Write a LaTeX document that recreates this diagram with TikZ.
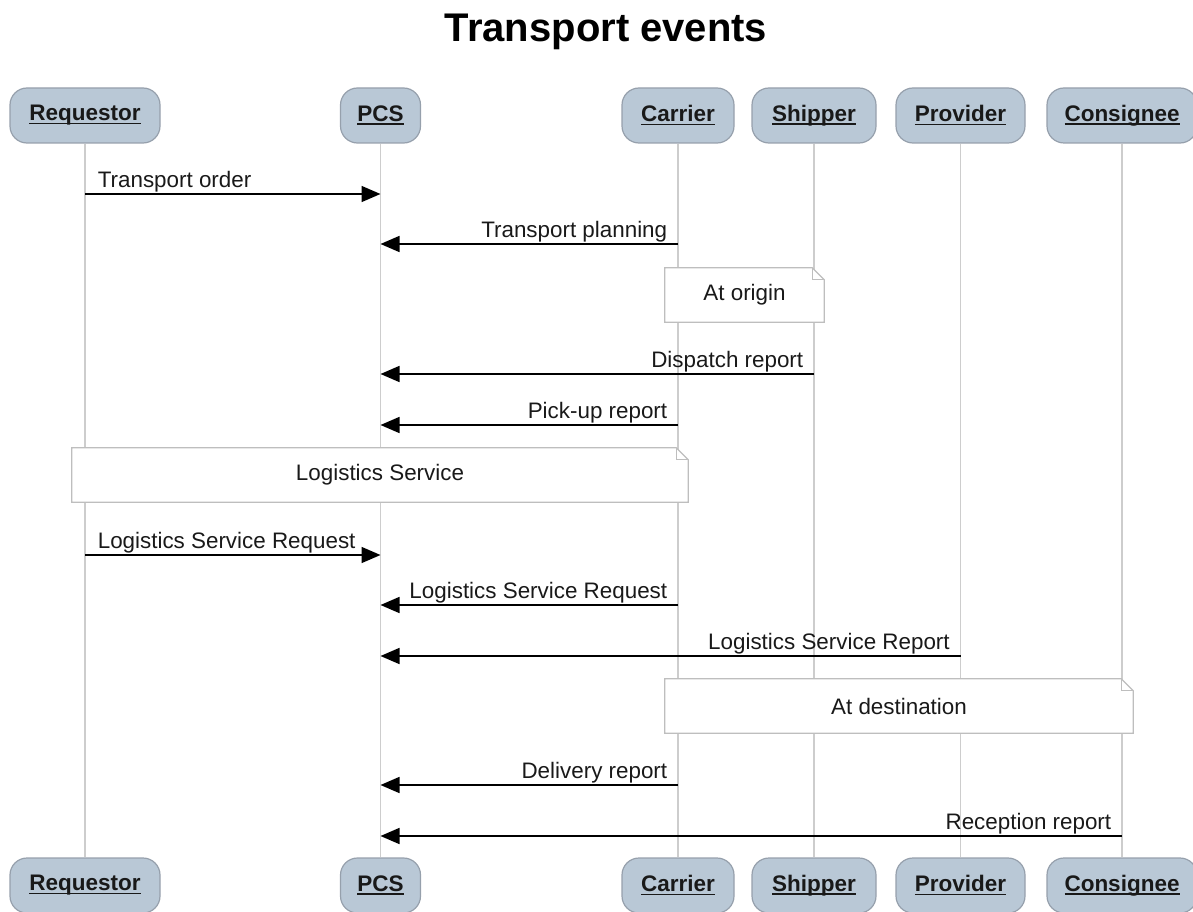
\documentclass[tikz,border=0pt]{standalone}
\usepackage{fontspec}
\setmainfont{Liberation Sans}
\usetikzlibrary{arrows.meta,calc}
\definecolor{partfill}{RGB}{185,200,214}
\definecolor{partdraw}{RGB}{150,160,172}
\definecolor{lifegray}{RGB}{205,205,205}
\definecolor{notegray}{RGB}{190,190,190}
\definecolor{ink}{RGB}{25,25,25}
\pgfdeclarelayer{bg}
\pgfsetlayers{bg,main}
% underlined participant name with a thicker rule
\newcommand\ulname[1]{\setbox0\hbox{#1}\rlap{\rule[-3.5pt]{\wd0}{1.8pt}}\box0}
% note outline with a folded top-right corner, drawn behind the note's text
\newcommand\notepath[1]{%
  \begin{pgfonlayer}{bg}
  \path[noteline] (#1.south west) -- (#1.north west) -- ([xshift=-12pt]#1.north east)
    -- ([yshift=-12pt]#1.north east) -- (#1.south east) -- cycle;
  \draw[noteline, fill=none] ([xshift=-12pt]#1.north east) |- ([yshift=-12pt]#1.north east);
  \end{pgfonlayer}}
\begin{document}
\begin{tikzpicture}[x=1pt,y=-1pt,
  part/.style={draw=partdraw, fill=partfill, line width=1.2pt, rounded corners=17pt,
    minimum height=55pt, inner sep=0pt, font=\bfseries\fontsize{22.5}{26}\selectfont, text=ink},
  life/.style={draw=lifegray, line width=1.2pt},
  msg/.style={draw=black, line width=1.6pt, -{Triangle[length=19pt,width=16pt]}},
  lbl/.style={font=\fontsize{22.4}{26}\selectfont, text=ink, inner sep=0pt},
  notebox/.style={inner sep=0pt, minimum height=54pt, font=\fontsize{22.4}{26}\selectfont, text=ink},
  noteline/.style={draw=notegray, line width=1.2pt, fill=white},
]
\useasboundingbox (0,0) rectangle (1193,912);

% title
\node[font=\bfseries\fontsize{40}{46}\selectfont, text=black] (title) at (606,32) {Transport events};

% participants, top row
\node[part, minimum width=150pt] (reqT)  at (85,115.5)   {\ulname{Requestor}};
\node[part, minimum width=80pt]  (pcsT)  at (380.5,115.5){\ulname{PCS}};
\node[part, minimum width=112pt] (carT)  at (678,115.5)  {\ulname{Carrier}};
\node[part, minimum width=124pt] (shipT) at (814,115.5)  {\ulname{Shipper}};
\node[part, minimum width=129pt] (provT) at (960.5,115.5){\ulname{Provider}};
\node[part, minimum width=150pt] (consT) at (1122,115.5) {\ulname{Consignee}};

% participants, bottom row
\node[part, minimum width=150pt] (reqB)  at (85,885.5)   {\ulname{Requestor}};
\node[part, minimum width=80pt]  (pcsB)  at (380.5,885.5){\ulname{PCS}};
\node[part, minimum width=112pt] (carB)  at (678,885.5)  {\ulname{Carrier}};
\node[part, minimum width=124pt] (shipB) at (814,885.5)  {\ulname{Shipper}};
\node[part, minimum width=129pt] (provB) at (960.5,885.5){\ulname{Provider}};
\node[part, minimum width=150pt] (consB) at (1122,885.5) {\ulname{Consignee}};

% lifelines
\begin{pgfonlayer}{bg}
\draw[life] (reqT) -- (reqB);
\draw[life] (pcsT) -- (pcsB);
\draw[life] (carT) -- (carB);
\draw[life] (shipT) -- (shipB);
\draw[life] (provT) -- (provB);
\draw[life] (consT) -- (consB);
\end{pgfonlayer}

% messages
\draw[msg] (reqT |- 0,194) -- (pcsT |- 0,194)
  node[lbl, pos=0, anchor=base west, xshift=12pt, yshift=7pt] {Transport order};
\draw[msg] (carT |- 0,244) -- (pcsT |- 0,244)
  node[lbl, pos=0, anchor=base east, xshift=-10pt, yshift=7pt] {Transport planning};

\node[notebox, minimum width=159pt] (origin) at (744.5,295) {At origin};
\notepath{origin}

\draw[msg] (shipT |- 0,374) -- (pcsT |- 0,374)
  node[lbl, pos=0, anchor=base east, xshift=-10pt, yshift=7pt] {Dispatch report};
\draw[msg] (carT |- 0,425) -- (pcsT |- 0,425)
  node[lbl, pos=0, anchor=base east, xshift=-10pt, yshift=7pt] {Pick-up report};

\node[notebox, minimum width=616pt] (logserv) at (380,475) {Logistics Service};
\notepath{logserv}

\draw[msg] (reqT |- 0,555) -- (pcsT |- 0,555)
  node[lbl, pos=0, anchor=base west, xshift=12pt, yshift=7pt] {Logistics Service Request};
\draw[msg] (carT |- 0,605) -- (pcsT |- 0,605)
  node[lbl, pos=0, anchor=base east, xshift=-10pt, yshift=7pt] {Logistics Service Request};
\draw[msg] (provT |- 0,656) -- (pcsT |- 0,656)
  node[lbl, pos=0, anchor=base east, xshift=-10pt, yshift=7pt] {Logistics Service Report};

\node[notebox, minimum width=468pt] (dest) at (899,706) {At destination};
\notepath{dest}

\draw[msg] (carT |- 0,785) -- (pcsT |- 0,785)
  node[lbl, pos=0, anchor=base east, xshift=-10pt, yshift=7pt] {Delivery report};
\draw[msg] (consT |- 0,836) -- (pcsT |- 0,836)
  node[lbl, pos=0, anchor=base east, xshift=-10pt, yshift=7pt] {Reception report};
\end{tikzpicture}
\end{document}
